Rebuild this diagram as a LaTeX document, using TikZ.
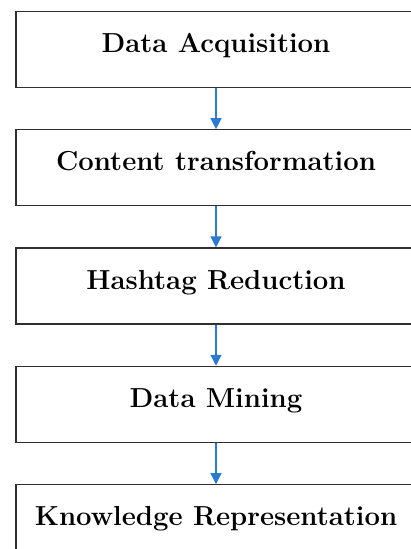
\documentclass[tikz,border=0pt]{standalone}
\usetikzlibrary{positioning,arrows.meta}
\begin{document}
\begin{tikzpicture}[x=1pt, y=-1pt, node distance=41pt,
  stage/.style={draw=boxcol, line width=1.3pt, minimum width=400pt, minimum height=76pt,
    inner sep=0pt, font=\fontsize{27.5}{32}\selectfont\bfseries, text height=0.7em, text depth=0.1em},
  flow/.style={draw=arrcol, line width=1.2pt, -{Triangle[width=11pt,length=11pt,fill=arrcol]}}]
\definecolor{boxcol}{HTML}{2F2F2F}
\definecolor{arrcol}{HTML}{2A7AD2}
\useasboundingbox (0,0) rectangle (411,549);
\clip (0,0) rectangle (411,549);
% the five stages
\node[stage] (acq) at (216,49.5) {Data Acquisition};
\node[stage, below=of acq] (trans) {Content transformation};
\node[stage, below=of trans] (hash) {Hashtag Reduction};
\node[stage, below=of hash] (mining) {Data Mining};
\node[stage, below=of mining] (know) {Knowledge Representation};
% arrows between them
\draw[flow] (acq) -- (trans);
\draw[flow] (trans) -- (hash);
\draw[flow] (hash) -- (mining);
\draw[flow] (mining) -- (know);
\end{tikzpicture}
\end{document}
